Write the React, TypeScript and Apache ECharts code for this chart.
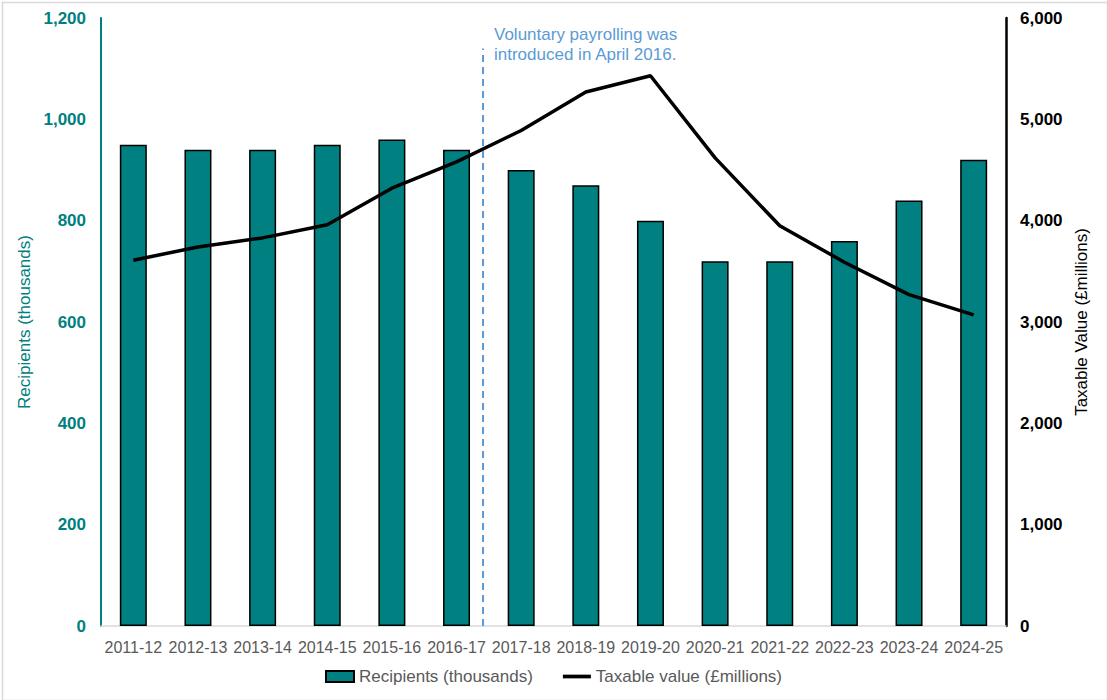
import React, { useEffect, useRef } from "react";
import * as echarts from "echarts";

const categories = ["2011-12", "2012-13", "2013-14", "2014-15", "2015-16", "2016-17", "2017-18", "2018-19", "2019-20", "2020-21", "2021-22", "2022-23", "2023-24", "2024-25"];
const recipients = [950, 940, 940, 950, 960, 940, 900, 870, 800, 720, 720, 760, 840, 920];
const taxableValue = [3610, 3740, 3830, 3960, 4320, 4580, 4890, 5270, 5430, 4620, 3950, 3590, 3270, 3070];
const markerPosition = [[5.91, 0], [5.91, 1140]];
const annotation = "Voluntary payrolling was\nintroduced in April 2016.";

const TEAL = "#008080";
const FONT = "Liberation Sans, Arial, sans-serif";

export default function App() {
  const ref = useRef<HTMLDivElement>(null);
  useEffect(() => {
    const chart = echarts.init(ref.current!, null, { renderer: "svg" });
    chart.setOption({
      animation: false,
      textStyle: { fontFamily: FONT },
      grid: { left: 101, right: 101, top: 18, bottom: 74 },
      legend: {
        bottom: 10,
        left: "center",
        itemGap: 30,
        itemWidth: 28,
        itemHeight: 11,
        textStyle: { color: "#595959", fontSize: 17, fontFamily: FONT },
        data: [
          { name: "Recipients (thousands)", icon: "rect" },
          { name: "Taxable value (£millions)", icon: "path://M0,0 H30 V4 H0 Z", itemStyle: { color: "#000" } },
        ],
      },
      xAxis: [
        {
          type: "category",
          data: categories,
          axisLine: { lineStyle: { color: "#d9d9d9", width: 1.5 } },
          axisTick: { show: false },
          axisLabel: { color: "#595959", fontSize: 16, margin: 13, interval: 0, fontFamily: FONT },
        },
        { type: "value", min: 0, max: 14, show: false },
      ],
      yAxis: [
        {
          type: "value",
          min: 0,
          max: 1200,
          interval: 200,
          name: "Recipients (thousands)",
          nameLocation: "middle",
          nameGap: 58,
          nameRotate: 90,
          nameTextStyle: { color: TEAL, fontSize: 17, fontFamily: FONT },
          axisLine: { show: true, lineStyle: { color: TEAL, width: 2 } },
          axisTick: { show: false },
          splitLine: { show: false },
          axisLabel: {
            color: TEAL,
            fontSize: 17,
            fontWeight: "bold",
            margin: 15,
            fontFamily: FONT,
            formatter: (v: number) => v.toLocaleString("en-GB"),
          },
        },
        {
          type: "value",
          min: 0,
          max: 6000,
          interval: 1000,
          position: "right",
          name: "Taxable Value (£millions)",
          nameLocation: "middle",
          nameGap: 65,
          nameRotate: 90,
          nameTextStyle: { color: "#000", fontSize: 17, fontFamily: FONT },
          axisLine: { show: true, lineStyle: { color: "#000", width: 2.5 } },
          axisTick: { show: false },
          splitLine: { show: false },
          axisLabel: {
            color: "#000",
            fontSize: 17,
            fontWeight: "bold",
            margin: 14,
            fontFamily: FONT,
            formatter: (v: number) => v.toLocaleString("en-GB"),
          },
        },
      ],
      series: [
        {
          name: "Recipients (thousands)",
          type: "bar",
          data: recipients,
          barWidth: 27,
          itemStyle: { color: TEAL, borderColor: "#000", borderWidth: 1.5 },
        },
        {
          name: "Taxable value (£millions)",
          type: "line",
          yAxisIndex: 1,
          data: taxableValue,
          symbol: "none",
          lineStyle: { color: "#000", width: 3.5 },
          itemStyle: { color: "#000" },
        },
        {
          name: "marker",
          type: "line",
          xAxisIndex: 1,
          yAxisIndex: 0,
          data: markerPosition,
          symbol: "none",
          silent: true,
          lineStyle: { color: "#5B9BD5", width: 2, type: [7, 5] },
        },
      ],
      graphic: [
        {
          type: "text",
          left: 494,
          top: 24,
          style: {
            text: annotation,
            fill: "#5B9BD5",
            fontSize: 17,
            fontFamily: FONT,
            lineHeight: 20,
          },
        },
        {
          type: "rect",
          left: 0,
          top: 0,
          shape: { width: 1105, height: 698 },
          style: { fill: "none", stroke: "#d9d9d9", lineWidth: 1.5 },
          silent: true,
        },
      ],
    });
    return () => chart.dispose();
  }, []);
  return (
    <div
      ref={ref}
      style={{ position: "fixed", left: 0, top: 0, width: 1107, height: 700, background: "#fff" }}
    />
  );
}
